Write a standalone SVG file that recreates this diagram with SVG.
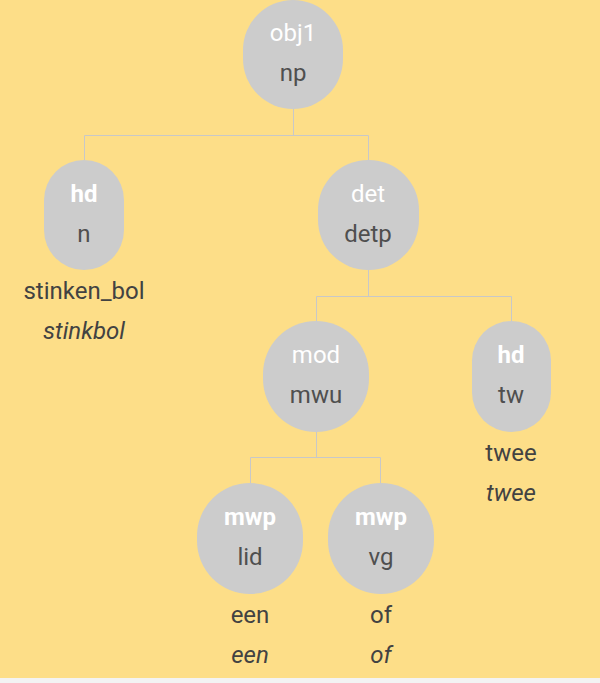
<svg xmlns="http://www.w3.org/2000/svg" width="600" height="683" viewBox="0 0 600 683">
  <style>
    .node { fill: #cccccc; }
    .edge { fill: none; stroke: #c8c8c8; stroke-width: 1; }
    text { font-family: Roboto, "Liberation Sans", sans-serif; font-size: 24px; text-anchor: middle; }
    .rel { fill: #ffffff; }
    .rel.b { font-weight: bold; }
    .cat { fill: #4f4f4f; }
    .word { fill: #424242; }
    .gloss { fill: #424242; font-style: italic; }
  </style>
  <rect x="0" y="0" width="600" height="683" fill="#fdde88"/>
  <rect x="0" y="678" width="600" height="5" fill="#f3f3f3"/>

  <g id="connectors">
    <path class="edge" d="M293.5 109 V135.5 M84.5 135.5 H368.5 M84.5 135.5 V160 M368.5 135.5 V160"/>
    <path class="edge" d="M368.5 270 V296.5 M316.5 296.5 H511.5 M316.5 296.5 V321 M511.5 296.5 V321"/>
    <path class="edge" d="M316.5 432 V457.5 M250.5 457.5 H380.5 M250.5 457.5 V483 M380.5 457.5 V483"/>
  </g>

  <g id="obj1">
    <rect class="node" x="243" y="0" width="100" height="109" rx="50" ry="50"/>
    <text class="rel" x="293" y="41">obj1</text>
    <text class="cat" x="293" y="81">np</text>
  </g>

  <g id="hd-n">
    <rect class="node" x="44" y="160" width="80" height="110" rx="40" ry="40"/>
    <text class="rel b" x="84" y="202">hd</text>
    <text class="cat" x="84" y="242">n</text>
    <text class="word" x="84" y="299">stinken_bol</text>
    <text class="gloss" x="84" y="339">stinkbol</text>
  </g>

  <g id="det">
    <rect class="node" x="318" y="160" width="101" height="110" rx="50" ry="50"/>
    <text class="rel" x="368" y="202">det</text>
    <text class="cat" x="368" y="242">detp</text>
  </g>

  <g id="mod">
    <rect class="node" x="263" y="321" width="106" height="111" rx="53" ry="53"/>
    <text class="rel" x="316" y="363">mod</text>
    <text class="cat" x="316" y="403">mwu</text>
  </g>

  <g id="hd-tw">
    <rect class="node" x="472" y="321" width="79" height="111" rx="39.5" ry="39.5"/>
    <text class="rel b" x="511" y="363">hd</text>
    <text class="cat" x="511" y="403">tw</text>
    <text class="word" x="511" y="461">twee</text>
    <text class="gloss" x="511" y="501">twee</text>
  </g>

  <g id="mwp-lid">
    <rect class="node" x="197" y="483" width="106" height="111" rx="53" ry="53"/>
    <text class="rel b" x="250" y="525">mwp</text>
    <text class="cat" x="250" y="565">lid</text>
    <text class="word" x="250" y="623">een</text>
    <text class="gloss" x="250" y="663">een</text>
  </g>

  <g id="mwp-vg">
    <rect class="node" x="328" y="483" width="106" height="111" rx="53" ry="53"/>
    <text class="rel b" x="381" y="525">mwp</text>
    <text class="cat" x="381" y="565">vg</text>
    <text class="word" x="381" y="623">of</text>
    <text class="gloss" x="381" y="663">of</text>
  </g>
</svg>
